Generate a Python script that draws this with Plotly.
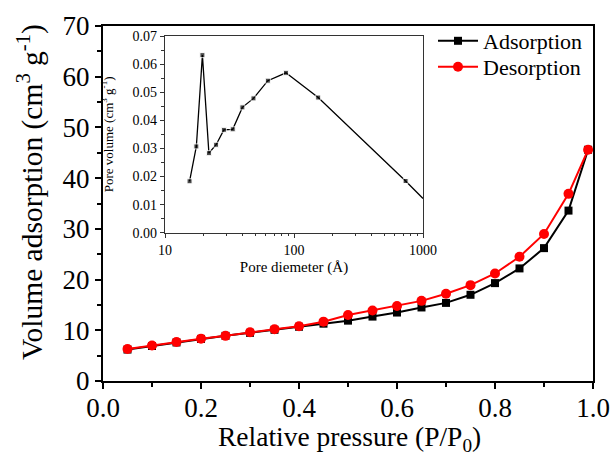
import plotly.graph_objects as go

# Main isotherm data
pressure = [0.05, 0.10, 0.15, 0.20, 0.25, 0.30, 0.35, 0.40, 0.45, 0.50,
            0.55, 0.60, 0.65, 0.70, 0.75, 0.80, 0.85, 0.90, 0.95, 0.99]
adsorption = [6.2, 6.9, 7.6, 8.3, 8.9, 9.5, 10.1, 10.7, 11.3, 11.9,
              12.7, 13.5, 14.5, 15.4, 17.0, 19.3, 22.2, 26.2, 33.6, 45.6]
desorption = [6.3, 7.0, 7.7, 8.35, 8.9, 9.6, 10.2, 10.8, 11.7, 13.0,
              13.9, 14.8, 15.8, 17.2, 18.9, 21.2, 24.5, 29.0, 36.9, 45.6]

# Inset pore size distribution
pore_diameter = [15.5, 17.5, 19.5, 21.9, 24.9, 28.6, 33.5, 39.8, 48.5,
                 62.7, 86.6, 154, 733, 1000]
pore_volume = [0.0183, 0.0307, 0.0632, 0.0283, 0.0313, 0.0366, 0.0368,
               0.0446, 0.0478, 0.0541, 0.0569, 0.0481, 0.0184, 0.0122]
inset_marker_sizes = [5] * (len(pore_diameter) - 1) + [0]

FONT = "Liberation Serif"

# Layout geometry (pixels)
W, H = 611, 453
ML, MR, MT, MB = 103, 18, 26, 72
PW, PH = W - ML - MR, H - MT - MB


def px_x(p):
    return (p - ML) / PW


def px_y(p):
    return (H - MB - p) / PH


fig = go.Figure()
fig.add_trace(go.Scatter(
    x=pressure, y=adsorption, mode="lines+markers", name="Adsorption",
    line=dict(color="black", width=2),
    marker=dict(symbol="square", size=8, color="black"),
    legend="legend",
))
fig.add_trace(go.Scatter(
    x=pressure, y=desorption, mode="lines+markers", name="Desorption",
    line=dict(color="#ff0000", width=2),
    marker=dict(symbol="circle", size=10, color="#ff0000"),
    legend="legend2",
))
fig.add_trace(go.Scatter(
    x=pore_diameter, y=pore_volume, mode="lines+markers", showlegend=False,
    xaxis="x2", yaxis="y2",
    line=dict(color="black", width=1.3),
    marker=dict(symbol="square", size=inset_marker_sizes, color="black"),
))

legend_common = dict(xanchor="left", yanchor="top", bgcolor="rgba(0,0,0,0)",
                     font=dict(size=22, family=FONT), itemwidth=40)

fig.update_layout(
    width=W, height=H,
    margin=dict(l=ML, r=MR, t=MT, b=MB, autoexpand=False),
    paper_bgcolor="white", plot_bgcolor="white",
    font=dict(family=FONT, color="black"),
    showlegend=True,
    legend=dict(x=px_x(433), y=px_y(20), **legend_common),
    legend2=dict(x=px_x(433), y=px_y(46), **legend_common),
    xaxis=dict(
        range=[0, 1.0], dtick=0.2, tick0=0, tickformat=".1f",
        showgrid=False, zeroline=False, automargin=False,
        showline=True, linewidth=2, linecolor="black", mirror=True,
        ticks="outside", ticklen=6, tickwidth=2, tickcolor="black",
        minor=dict(dtick=0.1, ticks="outside", ticklen=4, tickwidth=2, tickcolor="black", showgrid=False),
        tickfont=dict(size=27, family=FONT),
        ticklabelstandoff=-4,
    ),
    yaxis=dict(
        range=[0, 70], dtick=10, tick0=0,
        showgrid=False, zeroline=False, automargin=False,
        showline=True, linewidth=2, linecolor="black", mirror=True,
        ticks="outside", ticklen=6, tickwidth=2, tickcolor="black",
        minor=dict(dtick=5, ticks="outside", ticklen=4, tickwidth=2, tickcolor="black", showgrid=False),
        tickfont=dict(size=27, family=FONT),
    ),
    xaxis2=dict(
        type="log", range=[1, 3], domain=[px_x(165), px_x(423)], anchor="y2",
        showgrid=False, zeroline=False, automargin=False,
        showline=True, linewidth=1.2, linecolor="#333", mirror=True,
        ticks="outside", ticklen=4, tickwidth=1, tickcolor="#333",
        tickvals=[10, 100, 1000], ticktext=["10", "100", "1000"],
        minor=dict(ticks="outside", ticklen=2.5, tickwidth=1, tickcolor="#333",
                   tickvals=[20, 30, 40, 50, 60, 70, 80, 90, 200, 300, 400, 500, 600, 700, 800, 900],
                   showgrid=False),
        tickfont=dict(size=14, family=FONT),
        title=dict(text="Pore diemeter (Å)", font=dict(size=15, family=FONT), standoff=4),
    ),
    yaxis2=dict(
        range=[0, 0.07], dtick=0.01, tick0=0, tickformat=".2f",
        domain=[px_y(232.7), px_y(36)], anchor="x2",
        showgrid=False, zeroline=False, automargin=False,
        showline=True, linewidth=1.2, linecolor="#333", mirror=True,
        ticks="outside", ticklen=4, tickwidth=1, tickcolor="#333",
        minor=dict(dtick=0.005, ticks="outside", ticklen=2.5, tickwidth=1, tickcolor="#333", showgrid=False),
        tickfont=dict(size=14, family=FONT),
        title=dict(text="Pore volume (cm<sup>3</sup> g<sup>-1</sup>)", font=dict(size=13, family=FONT), standoff=16),
    ),
    annotations=[
        dict(text="Relative pressure (P/P<sub>0</sub>)", xref="paper", yref="paper",
             x=px_x(349), y=px_y(438.5), xanchor="center", yanchor="middle",
             showarrow=False, font=dict(size=27.5, family=FONT)),
        dict(text="Volume adsorption (cm<sup>3</sup> g<sup>-1</sup>)", xref="paper", yref="paper",
             x=px_x(30), y=px_y(192), xanchor="center", yanchor="middle", textangle=-90,
             showarrow=False, font=dict(size=29.5, family=FONT)),
    ],
)

fig.write_html(
    "out.html",
    config={"displayModeBar": False},
    post_script="document.body.style.margin='0';document.body.style.padding='0';document.body.style.overflow='hidden';",
)
